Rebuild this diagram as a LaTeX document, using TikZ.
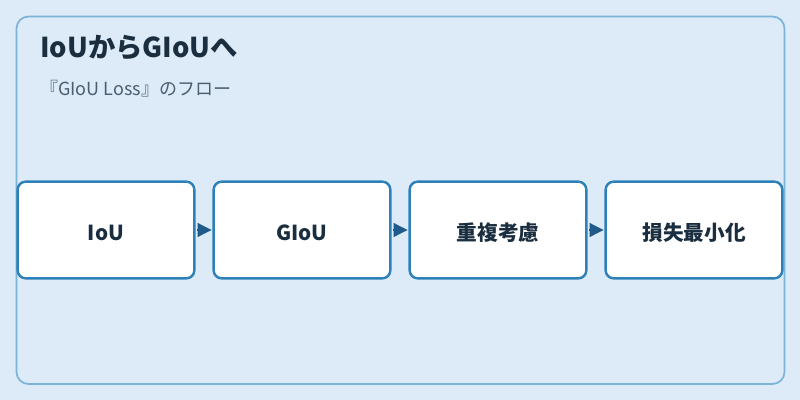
\documentclass[tikz,border=0pt]{standalone}
\usepackage{fontspec}
\setmainfont{Noto Sans CJK JP}
\usetikzlibrary{arrows.meta,positioning}

\definecolor{bgblue}{HTML}{DCEBF7}
\definecolor{frameline}{HTML}{7BB4D8}
\definecolor{boxline}{HTML}{2E80B8}
\definecolor{arrowblue}{HTML}{1F5A8A}
\definecolor{titletext}{HTML}{1A2E40}
\definecolor{subtext}{HTML}{4A5E70}

\begin{document}
\begin{tikzpicture}[
    x=0.75pt, y=-0.75pt,
    node distance=14.5pt,
    stage/.style={rectangle, draw=boxline, fill=white, line width=1.8pt, rounded corners=6pt,
      minimum width=132.5pt, minimum height=72.5pt, outer sep=0pt,
      text height=15.8pt, text depth=0pt,
      font=\fontsize{15.5}{18}\selectfont\bfseries, text=titletext},
    line/.style={draw=arrowblue, fill=arrowblue, line width=0.8pt,
      -{Triangle[length=10.5pt,width=10.5pt]}, shorten <=2pt, shorten >=1.6pt}
]
% Background and frame
\fill [bgblue] (0,0) rectangle (800,400);
\useasboundingbox (0,0) rectangle (800,400);
\draw [frameline, line width=1.3pt, rounded corners=9pt] (16.5,16.5) rectangle (784.5,384);

% Title
\node [anchor=base west, inner sep=0pt, text=titletext, font=\fontsize{20.5}{24}\selectfont\bfseries] (title) at (40,57) {IoUからGIoUへ};
\node [anchor=base west, inner sep=0pt, text=subtext, font=\fontsize{13.5}{16}\selectfont] (subtitle) at (40,95) {『GIoU Loss』のフロー};

% Flow stages
\node [stage] (iou) at (106,230) {IoU};
\node [stage, right=of iou] (giou) {GIoU};
\node [stage, right=of giou] (overlap) {重複考慮};
\node [stage, right=of overlap] (minloss) {損失最小化};

% Connections
\path [line] (iou) -- (giou);
\path [line] (giou) -- (overlap);
\path [line] (overlap) -- (minloss);
\end{tikzpicture}
\end{document}
